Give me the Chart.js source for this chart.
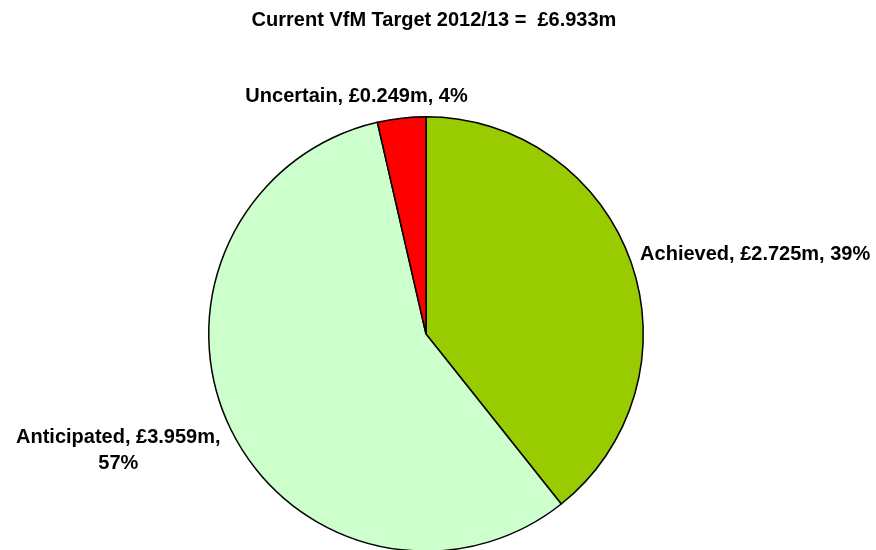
<!DOCTYPE html>
<html>
<head>
<meta charset="utf-8">
<script src="https://cdn.jsdelivr.net/npm/chart.js@4/dist/chart.umd.min.js"></script>
<style>
html,body{margin:0;padding:0;background:#fff;overflow:hidden;width:876px;height:550px;}
#wrap{position:absolute;left:0;top:0;width:876px;height:560px;}
</style>
</head>
<body>
<div id="wrap"><canvas id="c" width="876" height="560"></canvas></div>
<script>
const titleText = "Current VfM Target 2012/13 =  £6.933m";
const categories = ["Achieved", "Anticipated", "Uncertain"];
const values = [2.725, 3.959, 0.249];
const percents = ["39%", "57%", "4%"];
const colors = ["#99CC00", "#CCFFCC", "#FF0000"];

const labelPlugin = {
  id: 'labels',
  afterDraw(chart) {
    const ctx = chart.ctx;
    ctx.save();
    ctx.fillStyle = '#000';
    ctx.font = 'bold 20px "Liberation Sans", Arial, sans-serif';
    ctx.textAlign = 'center';
    ctx.textBaseline = 'middle';
    ctx.fillText(titleText, 434, 20);
    const meta = chart.getDatasetMeta(0);
    meta.data.forEach((arc, i) => {
      const mid = (arc.startAngle + arc.endAngle) / 2;
      const r = arc.outerRadius;
      const ax = arc.x + Math.cos(mid) * r;
      const ay = arc.y + Math.sin(mid) * r;
      const money = '£' + values[i].toFixed(3) + 'm';
      if (i === 0) {
        ctx.textAlign = 'left';
        ctx.fillText(categories[i] + ', ' + money + ', ' + percents[i], ax + 9, ay - 8);
      } else if (i === 2) {
        ctx.textAlign = 'center';
        ctx.fillText(categories[i] + ', ' + money + ', ' + percents[i], ax - 45, ay - 22);
      } else {
        ctx.textAlign = 'center';
        ctx.fillText(categories[i] + ', ' + money + ',', ax - 112, ay + 9);
        ctx.fillText(percents[i], ax - 112, ay + 35);
      }
    });
    ctx.restore();
  }
};

new Chart(document.getElementById('c'), {
  type: 'pie',
  data: {
    labels: categories,
    datasets: [{
      data: values,
      backgroundColor: colors,
      borderColor: '#000',
      borderWidth: 1.5
    }]
  },
  options: {
    responsive: false,
    animation: false,
    layout: { padding: { left: 208, right: 232, top: 116, bottom: 8 } },
    plugins: { legend: { display: false }, tooltip: { enabled: false }, title: { display: false } }
  },
  plugins: [labelPlugin]
});
</script>
</body>
</html>
